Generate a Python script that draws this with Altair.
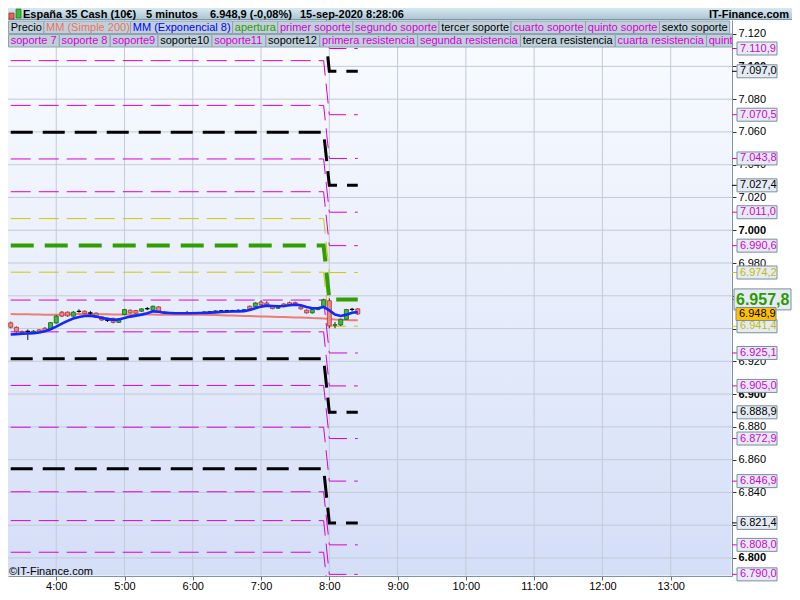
import altair as alt
import pandas as pd

# ---------------- data ----------------
first_bar = "3:20"          # first 5-minute candle
bar_step = 5                # minutes per candle
session_open = "8:00"       # new session: levels are recomputed

c_open = [6943.5, 6940.8, 6938.0, 6938.4, 6938.0, 6939.2, 6940.2, 6939.4, 6943.4, 6950.0,
          6950.0, 6947.6, 6950.6, 6950.6, 6949.6, 6949.4, 6947.2, 6945.2, 6946.2, 6943.8,
          6948.6, 6951.2, 6951.0, 6950.6, 6952.2, 6951.2, 6953.2, 6950.0, 6949.4, 6949.6,
          6949.2, 6949.6, 6949.8, 6949.4, 6949.4, 6950.2, 6950.0, 6950.8, 6950.8, 6951.0,
          6950.8, 6951.2, 6953.6, 6953.4, 6956.2, 6955.6, 6953.6, 6952.4, 6955.0, 6955.8,
          6955.8, 6953.2, 6951.2, 6949.6, 6951.6, 6953.4, 6957.0, 6942.0, 6942.2, 6945.6,
          6951.6, 6952.0]
c_close = [6940.8, 6938.2, 6937.6, 6938.2, 6938.4, 6938.0, 6938.6, 6943.6, 6947.6, 6947.6,
           6947.8, 6950.0, 6950.4, 6949.2, 6949.4, 6947.2, 6945.2, 6945.0, 6943.8, 6946.0,
           6951.6, 6949.6, 6949.4, 6952.0, 6952.0, 6953.6, 6950.2, 6949.4, 6949.6, 6949.2,
           6949.6, 6949.8, 6949.4, 6949.6, 6950.2, 6950.0, 6950.8, 6950.8, 6951.0, 6950.8,
           6951.2, 6951.6, 6952.0, 6955.6, 6954.6, 6954.2, 6952.2, 6952.8, 6953.4, 6954.6,
           6954.6, 6952.0, 6949.6, 6951.6, 6952.2, 6957.6, 6941.6, 6942.4, 6945.6, 6951.6,
           6951.8, 6948.9]
c_high = [6944.2, 6941.2, 6938.8, 6939.4, 6939.0, 6939.6, 6940.8, 6944.0, 6948.2, 6950.6,
          6950.4, 6950.6, 6951.8, 6951.0, 6950.8, 6949.8, 6947.6, 6946.6, 6946.6, 6946.4,
          6952.0, 6951.6, 6951.4, 6952.4, 6953.2, 6954.0, 6953.6, 6950.4, 6950.0, 6950.0,
          6950.0, 6950.8, 6950.2, 6950.0, 6950.6, 6950.6, 6951.2, 6951.2, 6951.4, 6951.4,
          6951.8, 6952.0, 6954.0, 6956.0, 6957.2, 6956.6, 6954.0, 6953.6, 6955.4, 6956.4,
          6956.4, 6953.6, 6951.6, 6952.0, 6952.8, 6958.2, 6958.4, 6944.0, 6946.0, 6952.0,
          6952.6, 6952.4]
c_low = [6940.2, 6937.6, 6936.8, 6933.0, 6937.2, 6937.6, 6938.0, 6939.0, 6943.0, 6947.0,
         6947.2, 6947.2, 6949.6, 6948.8, 6947.8, 6946.8, 6944.8, 6944.0, 6943.2, 6943.4,
         6948.2, 6949.2, 6949.0, 6950.2, 6951.2, 6950.8, 6949.8, 6949.0, 6949.0, 6948.8,
         6948.8, 6949.2, 6949.0, 6949.0, 6949.0, 6949.6, 6949.8, 6950.4, 6950.4, 6950.4,
         6950.4, 6950.8, 6951.6, 6953.0, 6954.2, 6953.8, 6951.8, 6952.0, 6953.0, 6954.2,
         6954.2, 6951.6, 6949.2, 6949.2, 6951.2, 6953.0, 6940.2, 6940.2, 6941.6, 6945.2,
         6950.6, 6948.4]
ema8 = [6936.4, 6936.6, 6936.8, 6937.0, 6937.2, 6937.6, 6938.4, 6939.6, 6941.2, 6943.0,
        6944.7, 6946.1, 6947.1, 6947.7, 6947.9, 6947.3, 6946.5, 6945.9, 6945.3, 6945.5,
        6946.5, 6947.3, 6947.9, 6948.5, 6949.3, 6950.5, 6950.3, 6949.7, 6949.5, 6949.3,
        6949.3, 6949.3, 6949.3, 6949.5, 6949.5, 6949.7, 6949.9, 6950.1, 6950.3, 6950.4,
        6950.5, 6950.6, 6951.3, 6952.4, 6953.4, 6954.0, 6953.8, 6953.6, 6953.8, 6954.2,
        6954.6, 6954.2, 6953.2, 6952.4, 6952.4, 6953.2, 6951.1, 6948.5, 6947.7, 6948.5,
        6949.7, 6950.1]
sma200 = [6948.9, 6948.8, 6948.8, 6948.7, 6948.6, 6948.6, 6948.5, 6948.5, 6948.5, 6948.6,
          6948.7, 6948.8, 6948.9, 6948.9, 6948.8, 6948.8, 6948.7, 6948.7, 6948.6, 6948.6,
          6948.6, 6948.6, 6948.6, 6948.6, 6948.6, 6948.6, 6948.5, 6948.5, 6948.5, 6948.5,
          6948.5, 6948.5, 6948.4, 6948.4, 6948.4, 6948.3, 6948.2, 6948.1, 6948.0, 6947.9,
          6947.8, 6947.7, 6947.6, 6947.5, 6947.4, 6947.3, 6947.2, 6947.1, 6947.0, 6946.9,
          6946.8, 6946.7, 6946.6, 6946.4, 6946.3, 6946.2, 6945.9, 6945.6, 6945.4, 6945.2,
          6945.1, 6945.0]

# support / resistance levels: previous session value -> new session value
level_prev = [7143.7, 7129.8, 7103.5, 7076.2, 7059.8, 7043.5, 7023.5, 7007.1, 6990.7, 6974.4,
              6957.4, 6938.0, 6921.6, 6905.3, 6879.8, 6854.4, 6840.4, 6822.8, 6803.5]
level_new = [7110.9, 7097.0, 7070.5, 7043.8, 7027.4, 7011.0, 6990.6, 6974.2, 6957.8, 6941.4,
             6925.1, 6905.0, 6888.9, 6872.9, 6846.9, 6821.4, 6808.0, 6790.0, 6770.5]
level_kind = ["m", "k", "m", "m", "k", "m", "m", "y", "g", "y",
              "m", "m", "k", "m", "m", "k", "m", "m", "m"]

legend_row1 = ["Precio", "MM (Simple 200)", "MM (Exponencial 8)", "apertura", "primer soporte",
               "segundo soporte", "tercer soporte", "cuarto soporte", "quinto soporte", "sexto soporte"]
legend_row1_kind = ["p", "s", "e", "g", "m", "m", "k", "m", "m", "k"]
legend_row2 = ["soporte 7", "soporte 8", "soporte9", "soporte10", "soporte11", "soporte12",
               "primera resistencia", "segunda resistencia", "tercera resistencia",
               "cuarta resistencia", "quinta resistencia"]
legend_row2_kind = ["m", "m", "m", "k", "m", "k", "m", "m", "k", "m", "m"]

hour_ticks = [240, 300, 360, 420, 480, 540, 600, 660, 720, 780]   # minutes after midnight
price_ticks = [6800, 6820, 6840, 6860, 6880, 6900, 6920, 6940, 6960, 6980,
               7000, 7020, 7040, 7060, 7080, 7100, 7120]
x_domain = [202, 829.5]
y_domain = [6789.0, 7128.3]

title_parts = ["España 35 Cash (10€)", "5 minutos", "15-sep-2020 8:28:06"]
change_pct = "-0,08%"
brand = "IT-Finance.com"

# ---------------- styling ----------------
FONT = "Liberation Sans"
W, H = 724, 556
line_col = {"m": "#d800d8", "k": "#000000", "y": "#cfc800", "g": "#339e00"}
text_col = {"m": "#d400d4", "k": "#000000", "y": "#c4bc00", "g": "#2f9a00",
            "p": "#000000", "s": "#f0705f", "e": "#0000ff"}


def to_min(s):
    h, m = s.split(":")
    return int(h) * 60 + int(m)


def es(v, d=1):
    s = f"{v:,.{d}f}"
    return s.replace(",", "X").replace(".", ",").replace("X", ".")


ARIAL = {"a": 556, "b": 556, "c": 500, "d": 556, "e": 556, "f": 278, "g": 556, "h": 556, "i": 222,
         "j": 222, "k": 500, "l": 222, "m": 833, "n": 556, "o": 556, "p": 556, "q": 556, "r": 333,
         "s": 500, "t": 278, "u": 556, "v": 500, "w": 722, "x": 500, "y": 500, "z": 500, " ": 278,
         "(": 333, ")": 333, "M": 833, "P": 667, "E": 667}


def text_w(s, size=11):
    return sum(ARIAL.get(ch, 556) for ch in s) * size / 1000


t0 = to_min(first_bar)
times = [t0 + bar_step * i for i in range(len(c_open))]
t_open = to_min(session_open)

bars = pd.DataFrame({"t": times, "o": c_open, "h": c_high, "l": c_low, "c": c_close,
                     "ema": ema8, "sma": sma200})
bars["dir"] = ["up" if c > o + 0.3 else ("down" if c < o - 0.3 else "flat")
               for o, c in zip(c_open, c_close)]

rows = []
for j, (p, n, k) in enumerate(zip(level_prev, level_new, level_kind)):
    for t, v in [(times[0], p), (t_open - bar_step, p), (t_open, n), (times[-1], n)]:
        rows.append({"lvl": j, "k": k, "t": t, "v": v})
lv = pd.DataFrame(rows)

XS = alt.Scale(domain=x_domain, nice=False, zero=False)
YS = alt.Scale(domain=y_domain, nice=False, zero=False)
x_axis = alt.Axis(values=hour_ticks, labelExpr="floor(datum.value/60) + ':00'", title=None,
                  grid=False, tickSize=4, tickColor="#5d6d7a", domainColor="#8193a1",
                  labelFontSize=11, labelFont=FONT, labelColor="#000", labelPadding=0)
y_axis = alt.Axis(orient="right", values=price_ticks,
                  labelExpr="replace(format(datum.value, ',.0f'), ',', '.')", title=None,
                  grid=False, tickSize=4, tickColor="#333", domainColor="#7f919f",
                  labelFontSize=11, labelFont=FONT, labelColor="#000", labelPadding=2,
                  labelFontWeight={"condition": {"test": "datum.value % 100 === 0", "value": "bold"},
                                   "value": "normal"})


def X(f):
    return alt.X(f"{f}:Q", scale=XS, axis=x_axis)


def Y(f):
    return alt.Y(f"{f}:Q", scale=YS, axis=y_axis)


one = pd.DataFrame({"a": [0]})
layers = []

# plot background
plot_grad = alt.Gradient(gradient="linear", x1=0, x2=0, y1=0, y2=1,
                         stops=[alt.GradientStop(color="#fafcff", offset=0),
                                alt.GradientStop(color="#d4def7", offset=1)])
layers.append(alt.Chart(one).mark_rect(fill=plot_grad).encode(
    x=alt.value(0), x2=alt.value(W - 0.5), y=alt.value(0), y2=alt.value(H - 0.5)))

# grid
layers.append(alt.Chart(pd.DataFrame({"g": price_ticks})).mark_rule(
    color="#c3cad8", strokeWidth=1).encode(y=Y("g")))
layers.append(alt.Chart(pd.DataFrame({"g": hour_ticks})).mark_rule(
    color="#c3cad8", strokeWidth=1).encode(x=X("g")))

# level lines
styles = {"m": (1, [20, 8]), "y": (1, [20, 8]), "k": (3, [22, 10]), "g": (4, [23, 11])}
for k in ["m", "y", "k", "g"]:
    w, d = styles[k]
    layers.append(alt.Chart(lv[lv.k == k]).mark_line(
        color=line_col[k], strokeWidth=w, strokeDash=d, clip=True).encode(
        x=X("t"), y=Y("v"), detail="lvl:N"))

# moving averages and candles
layers.append(alt.Chart(bars).mark_line(color="#ef7b72", strokeWidth=2, clip=True).encode(
    x=X("t"), y=Y("sma")))
layers.append(alt.Chart(bars).mark_rule(color="#1a1a1a", strokeWidth=1, clip=True).encode(
    x=X("t"), y=Y("l"), y2=alt.Y2("h")))
dirs = ["up", "down", "flat"]
layers.append(alt.Chart(bars).mark_bar(size=4, strokeWidth=0.9, clip=True).encode(
    x=X("t"), y=Y("o"), y2=alt.Y2("c"),
    fill=alt.Fill("dir:N", scale=alt.Scale(domain=dirs, range=["#3dbb3d", "#f08a80", "#000000"]),
                  legend=None),
    stroke=alt.Stroke("dir:N", scale=alt.Scale(domain=dirs, range=["#1c6f1c", "#b04040", "#000000"]),
                      legend=None)))
layers.append(alt.Chart(bars).mark_line(color="#1228ff", strokeWidth=2.6, clip=True).encode(
    x=X("t"), y=Y("ema")))

# legend boxes (two rows)
for labels, kinds, y0, y1, padw in [(legend_row1, legend_row1_kind, 1, 13.5, 4.2),
                                    (legend_row2, legend_row2_kind, 14.5, 27, 5)]:
    x = 0.5
    recs = []
    for lab, k in zip(labels, kinds):
        w = text_w(lab) + padw
        recs.append({"lab": lab, "x0": x, "x1": x + w, "tx": x + 2.2, "col": text_col[k]})
        x += w
    ldf = pd.DataFrame(recs)
    layers.append(alt.Chart(ldf).mark_rect(fill="#bfd0da", stroke="#8ea3b1", strokeWidth=1,
                                           clip=True).encode(
        x=alt.X("x0:Q", scale=None), x2=alt.X2("x1"), y=alt.value(y0), y2=alt.value(y1)))
    layers.append(alt.Chart(ldf).mark_text(align="left", baseline="middle", fontSize=11,
                                           font=FONT, clip=True).encode(
        x=alt.X("tx:Q", scale=None), y=alt.value((y0 + y1) / 2 + 0.5), text="lab:N",
        color=alt.Color("col:N", scale=None)))

# copyright
layers.append(alt.Chart(one).mark_text(align="left", baseline="middle", fontSize=11, font=FONT,
                                       color="#000").encode(
    x=alt.value(1), y=alt.value(H - 4), text=alt.value("©" + brand)))

# header bar
head_grad = alt.Gradient(gradient="linear", x1=0, x2=0, y1=0, y2=1,
                         stops=[alt.GradientStop(color="#d9e8f0", offset=0),
                                alt.GradientStop(color="#a9c3d1", offset=1)])
layers.append(alt.Chart(one).mark_rect(fill=head_grad).encode(
    x=alt.value(0), x2=alt.value(W + 60), y=alt.value(-12), y2=alt.value(0)))
layers.append(alt.Chart(one).mark_rule(color="#7d95a5", strokeWidth=1).encode(
    x=alt.value(0), x2=alt.value(W + 60), y=alt.value(-0.5)))
layers.append(alt.Chart(one).mark_rect(fill="#f06050", stroke="#802020", strokeWidth=0.6).encode(
    x=alt.value(1), x2=alt.value(6), y=alt.value(-7), y2=alt.value(-1)))
layers.append(alt.Chart(one).mark_rect(fill="#30c030", stroke="#206020", strokeWidth=0.6).encode(
    x=alt.value(8), x2=alt.value(13), y=alt.value(-11), y2=alt.value(-2)))
price_txt = f"{es(c_close[-1])} ({change_pct})"
for txt, xx in [(title_parts[0], 15), (title_parts[1], 138), (price_txt, 202), (title_parts[2], 292)]:
    layers.append(alt.Chart(one).mark_text(align="left", baseline="middle", fontSize=11,
                                           fontWeight="bold", font=FONT, color="#000").encode(
        x=alt.value(xx), y=alt.value(-5.5), text=alt.value(txt)))
layers.append(alt.Chart(one).mark_text(align="right", baseline="middle", fontSize=11,
                                       fontWeight="bold", font=FONT, color="#000").encode(
    x=alt.value(W + 57), y=alt.value(-5.5), text=alt.value(brand)))

# right-axis level labels
lab = pd.DataFrame({"v": level_new, "k": level_kind})
lab = lab[(lab.v > y_domain[0]) & (lab.v < y_domain[1])]
lab["txt"] = lab.v.map(es)
lab["col"] = lab.k.map(text_col)
lab["lc"] = lab.k.map(line_col)
std = lab[lab.k != "g"]
ape = lab[lab.k == "g"]
layers.append(alt.Chart(lab).mark_rule(strokeWidth=1).encode(
    x=alt.value(W), x2=alt.value(W + 5), y=Y("v"), color=alt.Color("lc:N", scale=None)))
layers.append(alt.Chart(std).mark_rect(fill="#e5ebf5", stroke="#7b8d9b", strokeWidth=1,
                                       yOffset=-6.5, y2Offset=6.5).encode(
    x=alt.value(W + 5), x2=alt.value(W + 45), y=Y("v"), y2=alt.Y2("v")))
layers.append(alt.Chart(std).mark_text(align="left", baseline="middle", fontSize=11,
                                       font=FONT).encode(
    x=alt.value(W + 8), y=Y("v"), text="txt:N", color=alt.Color("col:N", scale=None)))
layers.append(alt.Chart(ape).mark_rect(fill="#e5ebf5", stroke="#7b8d9b", strokeWidth=1,
                                       yOffset=-10.5, y2Offset=10.5).encode(
    x=alt.value(W + 2), x2=alt.value(W + 59), y=Y("v"), y2=alt.Y2("v")))
layers.append(alt.Chart(ape).mark_text(align="left", baseline="middle", fontSize=16,
                                       fontWeight="bold", font=FONT, dy=1).encode(
    x=alt.value(W + 4), y=Y("v"), text="txt:N", color=alt.Color("col:N", scale=None)))

cur = pd.DataFrame({"v": [c_close[-1]], "txt": [es(c_close[-1])]})
layers.append(alt.Chart(cur).mark_rect(fill="#ffc000", stroke="#7b8d9b", strokeWidth=1,
                                       yOffset=-6.5, y2Offset=6.5).encode(
    x=alt.value(W + 4), x2=alt.value(W + 44), y=Y("v"), y2=alt.Y2("v")))
layers.append(alt.Chart(cur).mark_text(align="left", baseline="middle", fontSize=11,
                                       font=FONT, color="#000").encode(
    x=alt.value(W + 7), y=Y("v"), text="txt:N"))

chart = alt.layer(*layers).properties(
    width=W, height=H,
    padding={"left": 0, "top": 12, "right": 60, "bottom": 16},
    autosize=alt.AutoSizeParams(type="none"),
).configure(font=FONT).configure_view(strokeWidth=0)

chart.save("out.html", embed_options={"renderer": "svg", "actions": False})
